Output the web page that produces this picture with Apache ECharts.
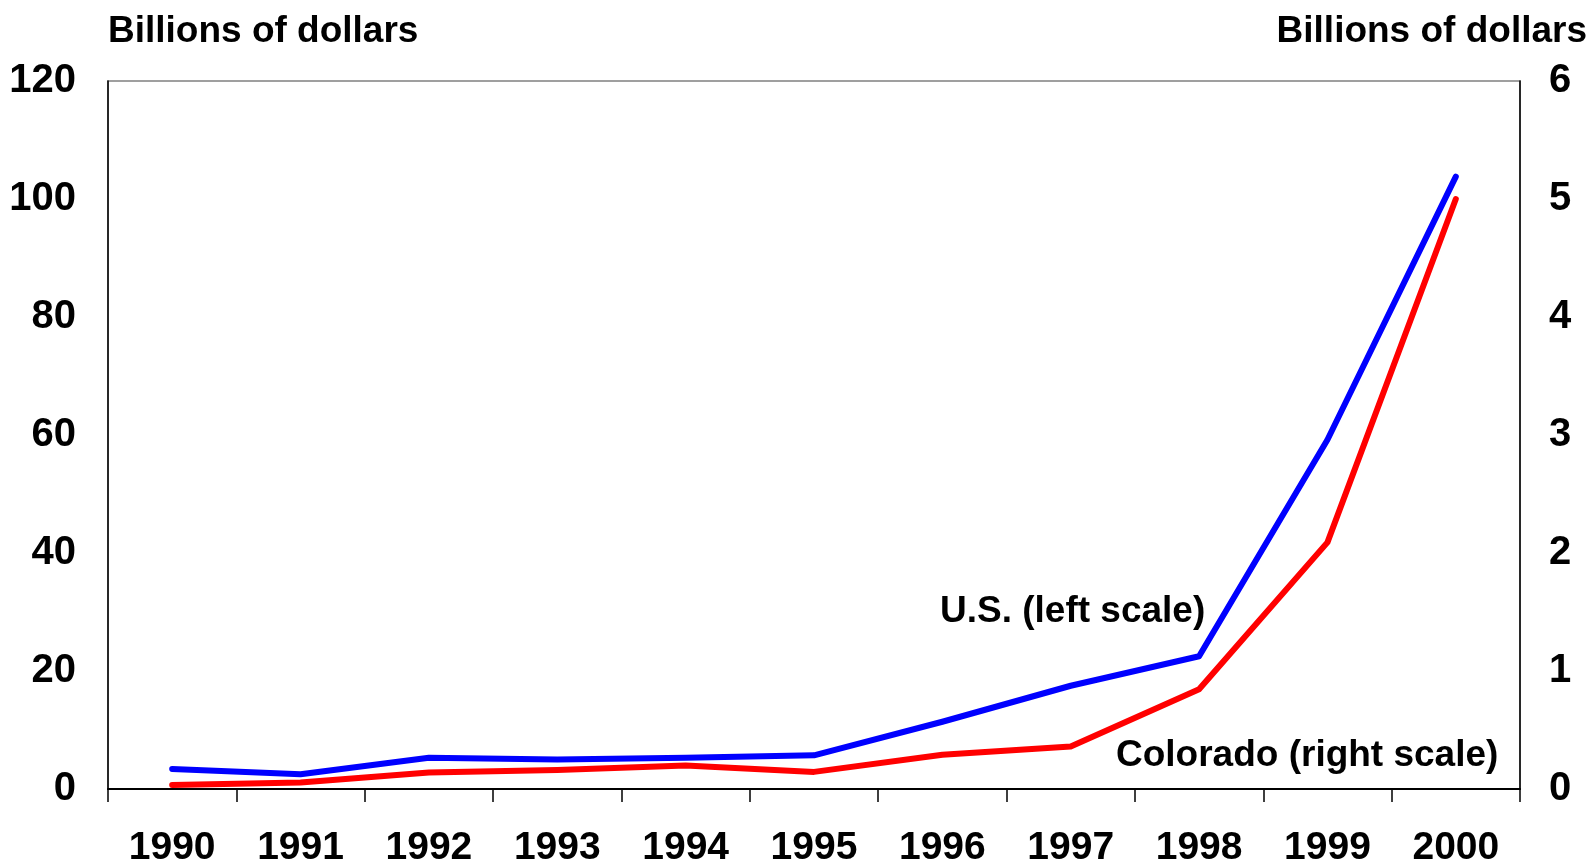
<!DOCTYPE html>
<html>
<head>
<meta charset="utf-8">
<script src="https://cdn.jsdelivr.net/npm/echarts@6/dist/echarts.min.js"></script>
<style>
html,body{margin:0;padding:0;background:#fff;}
#chart{width:1591px;height:866px;}
</style>
</head>
<body>
<div id="chart"></div>
<script>
const years = ['1990','1991','1992','1993','1994','1995','1996','1997','1998','1999','2000'];
const usValues = [3.4, 2.5, 5.3, 5.0, 5.3, 5.7, 11.4, 17.5, 22.5, 59.2, 103.8];
const coloradoValues = [0.034, 0.055, 0.14, 0.16, 0.2, 0.145, 0.29, 0.36, 0.845, 2.09, 5.0];
const leftTicks = [0, 20, 40, 60, 80, 100, 120];
const rightTicks = [0, 1, 2, 3, 4, 5, 6];
const unitLabel = 'Billions of dollars';
const usLabel = 'U.S. (left scale)';
const coloradoLabel = 'Colorado (right scale)';

const FONT = '"Liberation Sans", Arial, sans-serif';
const chart = echarts.init(document.getElementById('chart'));
chart.setOption({
  animation: false,
  backgroundColor: '#ffffff',
  grid: {left: 108, right: 71, top: 81, bottom: 77, show: true, borderColor: '#808080', borderWidth: 1.5,
         containLabel: false, outerBoundsMode: 'none'},
  xAxis: {
    type: 'category', data: years, boundaryGap: true,
    axisLine: {lineStyle: {color: '#000', width: 2}},
    axisTick: {show: true, inside: false, length: 13, alignWithLabel: false, lineStyle: {color: '#000', width: 1.5}},
    axisLabel: {margin: 40, color: '#000', fontSize: 39, fontWeight: 'bold', fontFamily: FONT, interval: 0},
    splitLine: {show: false}
  },
  yAxis: [
    {
      type: 'value', min: leftTicks[0], max: leftTicks[leftTicks.length-1], interval: 20, position: 'left',
      axisLine: {show: true, lineStyle: {color: '#000', width: 1.5}},
      axisTick: {show: false},
      splitLine: {show: false},
      axisLabel: {margin: 32, color: '#000', fontSize: 40, fontWeight: 'bold', fontFamily: FONT}
    },
    {
      type: 'value', min: rightTicks[0], max: rightTicks[rightTicks.length-1], interval: 1, position: 'right',
      axisLine: {show: true, lineStyle: {color: '#000', width: 1.5}},
      axisTick: {show: false},
      splitLine: {show: false},
      axisLabel: {margin: 29, color: '#000', fontSize: 40, fontWeight: 'bold', fontFamily: FONT}
    }
  ],
  series: [
    {name: 'U.S.', type: 'line', yAxisIndex: 0, data: usValues, symbol: 'none',
     lineStyle: {color: '#0000ff', width: 6, cap: 'round', join: 'round'}, z: 3},
    {name: 'Colorado', type: 'line', yAxisIndex: 1, data: coloradoValues, symbol: 'none',
     lineStyle: {color: '#ff0000', width: 6, cap: 'round', join: 'round'}, z: 2}
  ],
  graphic: [
    {type: 'text', left: 108, top: 13, style: {text: unitLabel, fill: '#000', font: 'bold 37px ' + FONT}},
    {type: 'text', right: 4, top: 13, style: {text: unitLabel, fill: '#000', font: 'bold 37px ' + FONT}},
    {type: 'text', left: 940, top: 593, style: {text: usLabel, fill: '#000', font: 'bold 37px ' + FONT}},
    {type: 'text', left: 1116, top: 737, style: {text: coloradoLabel, fill: '#000', font: 'bold 37px ' + FONT}}
  ]
});
</script>
</body>
</html>
